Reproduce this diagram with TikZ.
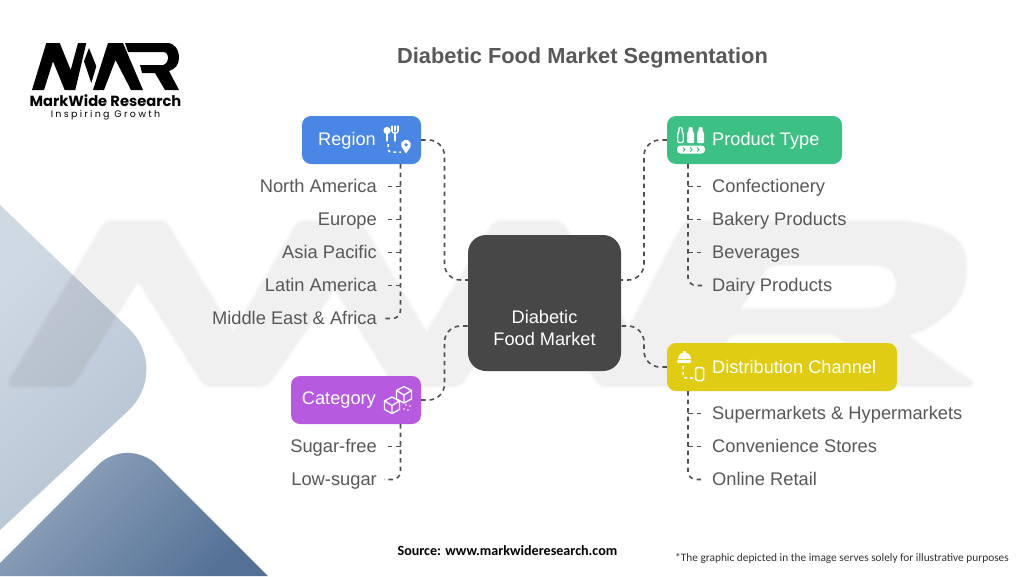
\documentclass[tikz,border=0pt]{standalone}
\usepackage{fontspec}
\setmainfont{Liberation Sans}
\newfontfamily\carlito{Carlito}
\newfontfamily\pop{Poppins}
\newfontfamily\popspaced[LetterSpace=24]{Poppins}
\usetikzlibrary{calc}
\definecolor{txt}{HTML}{58585A}
\definecolor{conncol}{HTML}{505050}
\definecolor{regionc}{HTML}{4A86E4}
\definecolor{productc}{HTML}{3CC084}
\definecolor{distc}{HTML}{E1CC14}
\definecolor{catc}{HTML}{B65BE0}
\definecolor{centerc}{HTML}{474747}
\definecolor{lightA}{HTML}{CFD9E3}
\definecolor{lightB}{HTML}{B3C2D2}
\definecolor{darkA}{HTML}{94A8C0}
\definecolor{darkB}{HTML}{557296}
\tikzset{
  box/.style={draw=none,rounded corners=9pt,minimum height=48pt,inner sep=0pt},
  boxtext/.style={text=white,inner sep=0pt,font=\fontsize{18.2}{22}\selectfont},
  leafl/.style={anchor=east,text=txt,inner ysep=0pt,inner xsep=7pt,text height=12pt,text depth=0pt,font=\fontsize{18.3}{22}\selectfont},
  leafr/.style={anchor=west,text=txt,inner ysep=0pt,inner xsep=8pt,text height=12pt,text depth=0pt,font=\fontsize{18.3}{22}\selectfont},
  conn/.style={draw=conncol,line width=1.6pt,dash pattern=on 4.5pt off 4pt},
  icon/.style={draw=white,line width=1.3pt,line cap=round,line join=round},
  icond/.style={draw=white,line width=1.5pt,dash pattern=on 3pt off 3pt},
  wmark/.style={black,line join=round,rounded corners=6pt}
}
\newcommand{\wmpass}[1]{%
\begin{scope}[transparency group,opacity=.018]
\filldraw[wmark,line width=#1pt]
  (8,385) -- (106,222) -- (165,222) -- (265,385) -- (205,385) -- (138,279) -- (72,385) -- cycle;
\filldraw[wmark,line width=#1pt]
  (203,385) -- (299,222) -- (360,222) -- (433,345) -- (460,385) -- (395,385) -- (335,287) -- (267,385) -- cycle;
\filldraw[wmark,line width=#1pt]
  (395,385) -- (495,222) -- (561,222) -- (663,385) -- (600,385) -- (530,277) -- (460,385) -- cycle;
\filldraw[wmark,line width=#1pt,even odd rule]
  (600,385) -- (685,222) -- (880,222) .. controls (940,222) and (965,238) .. (965,268) .. controls (965,300) and (940,325) .. (905,335) -- (975,385) -- (895,385) -- (835,333) -- (730,333) -- (705,385) -- cycle
  (768,264) -- (738,310) -- (870,310) .. controls (905,304) and (905,264) .. (870,264) -- cycle;
\end{scope}}
\begin{document}
\begin{tikzpicture}[x=1pt,y=-1pt]
\useasboundingbox (0,0) rectangle (1024,576);
\fill[white] (0,0) rectangle (1024,576);
% decorative diamonds
\shade[left color=lightA,right color=lightB,shading angle=45]
  (0,205) [rounded corners=60pt] -- (172,370) [sharp corners] -- (0,530) -- cycle;
\shade[left color=darkA,right color=darkB,shading angle=45]
  (0,563) [rounded corners=42pt] -- (127.5,435.5) [sharp corners] -- (268,576) -- (0,576) -- cycle;
% watermark
\wmpass{0}\wmpass{3}\wmpass{6}
% logo
\fill[black] (32,90) -- (46.3,43) -- (59.7,43) -- (70.7,70) -- (78,43) -- (86.3,43) -- (75.3,90) -- (64.7,90) -- (53,61.3) -- (44,90) -- cycle;
\fill[black] (89,48) -- (96.3,66.3) -- (91.3,83) -- (84,61.3) -- cycle;
\fill[black] (93,90) -- (108,43) -- (123,43) -- (143,90) -- (131,90) -- (115.5,60) -- (104,90) -- cycle;
\fill[black] (125,43) -- (167,43) .. controls (175,43) and (179,50) .. (179,58) .. controls (179,65) and (175,69) .. (169,71) -- (179,90) -- (165,90) -- (155,73) -- (142,73) -- (140,65) -- (163,65) .. controls (170,63) and (170,52) .. (163,52) -- (128,52) -- cycle;
\node[inner sep=0pt,text=black,anchor=base] (brand) at (105.5,106.5) {\fontsize{14.7}{16}\selectfont\pop\bfseries MarkWide Research};
\node[inner sep=0pt,text=black,anchor=base] (tagline) at (105.5,117.5) {\fontsize{9.5}{10}\selectfont\popspaced Inspiring Growth};
% title
\node[inner sep=0pt,text=txt] (title) at (582.5,58) {\fontsize{21.8}{26}\selectfont\bfseries Diabetic Food Market Segmentation};
% boxes
\node[box,fill=centerc,rounded corners=18pt,minimum width=153pt,minimum height=136pt] (center) at (544.5,303) {};
\node[boxtext,align=center] (centert) at (544.5,327.5) {Diabetic\\Food Market};
\node[box,fill=regionc,minimum width=119pt] (region) at (361.5,140) {};
\node[boxtext,anchor=east] (regiont) at (376,140.5) {Region};
\node[box,fill=productc,minimum width=175pt] (product) at (754.5,140) {};
\node[boxtext,anchor=west] (productt) at (712,140.5) {Product Type};
\node[box,fill=distc,minimum width=230pt] (dist) at (782,367) {};
\node[boxtext,anchor=west] (distt) at (712,367) {Distribution Channel};
\node[box,fill=catc,minimum width=130pt] (cat) at (356,400) {};
\node[boxtext,anchor=east] (catt) at (376,400.5) {Category};
% hub connector ends
\coordinate (cnw) at (468,280);
\coordinate (csw) at (468,326);
\coordinate (cne) at (621,280);
\coordinate (cse) at (621,326);
\draw[conn,rounded corners=16pt] (region.east) -- (444.5,140) -- (444.5,280) -- (cnw);
\draw[conn,rounded corners=16pt] (cat.east) -- (444.5,400) -- (444.5,326) -- (csw);
\draw[conn,rounded corners=16pt] (product.west) -- (644,140) -- (644,280) -- (cne);
\draw[conn,rounded corners=16pt] (dist.west) -- (644,367) -- (644,326) -- (cse);
% leaves: region
\node[leafl] (r1) at (384,186.5) {North America};
\node[leafl] (r2) at (384,219.5) {Europe};
\node[leafl] (r3) at (384,252.5) {Asia Pacific};
\node[leafl] (r4) at (384,285.5) {Latin America};
\node[leafl] (r5) at (384,318.5) {Middle East \& Africa};
\coordinate (rs) at (400.5,164);
\draw[conn,rounded corners=8pt] (rs) -- (rs |- r5.east) -- (r5.east);
\foreach \n in {r1,r2,r3,r4} \draw[conn] (rs |- \n.east) -- (\n.east);
% leaves: category
\node[leafl] (c1) at (384,446.5) {Sugar-free};
\node[leafl] (c2) at (384,479.5) {Low-sugar};
\coordinate (cs) at (400.5,424);
\draw[conn,rounded corners=8pt] (cs) -- (cs |- c2.east) -- (c2.east);
\draw[conn] (cs |- c1.east) -- (c1.east);
% leaves: product
\node[leafr] (p1) at (704,186.5) {Confectionery};
\node[leafr] (p2) at (704,219.5) {Bakery Products};
\node[leafr] (p3) at (704,252.5) {Beverages};
\node[leafr] (p4) at (704,285.5) {Dairy Products};
\coordinate (ps) at (688,164);
\draw[conn,rounded corners=8pt] (ps) -- (ps |- p4.west) -- (p4.west);
\foreach \n in {p1,p2,p3} \draw[conn] (ps |- \n.west) -- (\n.west);
% leaves: distribution
\node[leafr] (d1) at (704,413.5) {Supermarkets \& Hypermarkets};
\node[leafr] (d2) at (704,446.5) {Convenience Stores};
\node[leafr] (d3) at (704,479.5) {Online Retail};
\coordinate (ds) at (688,391);
\draw[conn,rounded corners=8pt] (ds) -- (ds |- d3.west) -- (d3.west);
\foreach \n in {d1,d2} \draw[conn] (ds |- \n.west) -- (\n.west);
% icon: region
\fill[white] (387,130.5) circle (3.6pt);
\draw[icon,line width=1.6pt] (387,133) -- (387,141);
\draw[icon,line width=1.1pt] (392,126) -- (392,131) (395,126) -- (395,131) (398,126) -- (398,131);
\draw[icon] (392,131) .. controls (392,134) and (398,134) .. (398,131);
\draw[icon,line width=1.6pt] (395,133) -- (395,141);
\draw[icond] (388,144) -- (388,149) .. controls (388,152) and (390,152) .. (393,152) -- (401,152);
\fill[white] (401.3,146.5) arc[start angle=200,end angle=-20,radius=5pt] -- (406,153.5) -- cycle;
\fill[regionc] (406,144.8) circle (1.8pt);
% icon: product
\draw[icon,line width=1.3pt,rounded corners=1pt] (677.8,142.5) -- (677.8,134) -- (679,131) -- (679,127.5) -- (682,127.5) -- (682,131) -- (683.2,134) -- (683.2,142.5) -- cycle;
\foreach \x in {690.5,700.5} {
  \fill[white,rounded corners=1pt] (\x-3.5,133) -- (\x-2,131) -- (\x-2,127) -- (\x+2,127) -- (\x+2,131) -- (\x+3.5,133) -- (\x+3.5,143) -- (\x-3.5,143) -- cycle;
}
\fill[white,rounded corners=3.5pt] (677,145.5) rectangle (705,153.5);
\foreach \x in {684,691,698} \draw[productc,line width=1pt] (\x-1,147.5) -- (\x+1,149.5) -- (\x-1,151.5);
% icon: distribution
\fill[white] (678,359) arc[start angle=180,end angle=360,x radius=6.5pt,y radius=-6.5pt] -- cycle;
\fill[white] (682.5,351) rectangle (685.5,354);
\fill[white,rounded corners=1pt] (677,360) rectangle (691,363);
\draw[icond] (683,366) -- (683,375) .. controls (683,378) and (684,378) .. (687,378) -- (693,378);
\draw[icon,line width=1.5pt,rounded corners=1.5pt] (695.5,367.5) rectangle (703.5,380.5);
% icon: category
\begin{scope}[icon]
\draw (392,397) -- (399.5,401) -- (399.5,409.5) -- (392,413.5) -- (384.5,409.5) -- (384.5,401) -- cycle;
\draw (384.5,401) -- (392,405.5) -- (399.5,401) (392,405.5) -- (392,413.5);
\draw (404,386.5) -- (411.5,390.5) -- (411.5,399) -- (404,403) -- (396.5,399) -- (396.5,390.5) -- cycle;
\draw (396.5,390.5) -- (404,395) -- (411.5,390.5) (404,395) -- (404,403);
\end{scope}
\fill[white] (406,405) circle (.9pt) (410,406) circle (.9pt) (404,409) circle (.9pt) (408,410) circle (.9pt);
% footer
\node[inner sep=0pt,text=black] (source) at (507.5,551) {\fontsize{14.1}{17}\selectfont\carlito\bfseries Source: www.markwideresearch.com};
\node[inner sep=0pt,text=black!80] (note) at (842,558) {\fontsize{11.35}{14}\selectfont\carlito *The graphic depicted in the image serves solely for illustrative purposes};
\end{tikzpicture}
\end{document}
